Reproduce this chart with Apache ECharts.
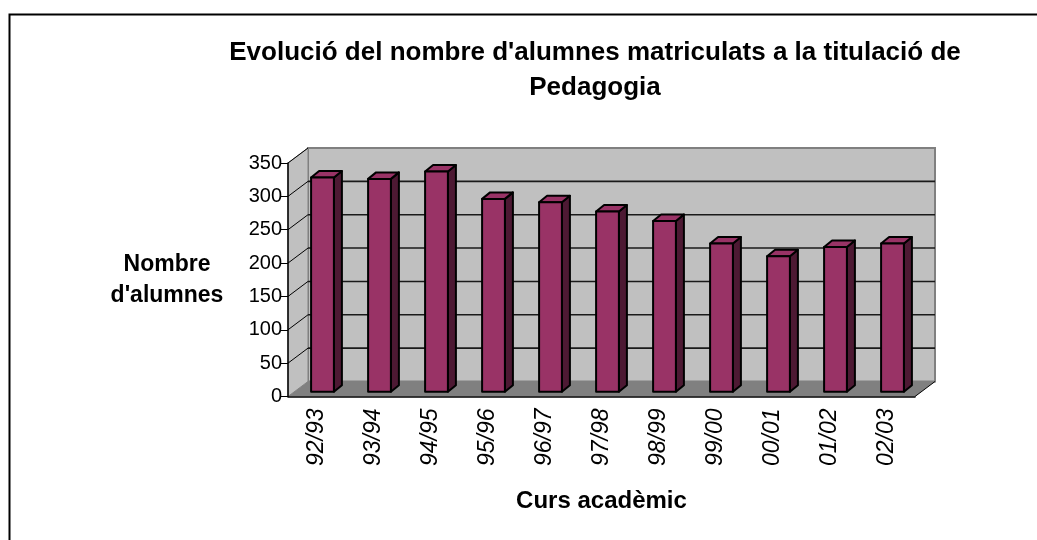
<!DOCTYPE html>
<html>
<head>
<meta charset="utf-8">
<script src="https://cdn.jsdelivr.net/npm/echarts@6/dist/echarts.min.js"></script>
<style>
  html, body { margin: 0; padding: 0; background: #fff; }
  #chart { width: 1037px; height: 540px; }
</style>
</head>
<body>
<div id="chart"></div>
<script>
  // curs acadèmic
  const categories = ['92/93', '93/94', '94/95', '95/96', '96/97', '97/98', '98/99', '99/00', '00/01', '01/02', '02/03'];
  // nombre d'alumnes matriculats
  const alumnes = [321, 319, 330, 289, 284, 270, 256, 222, 203, 217, 222];
  const yTicks = [0, 50, 100, 150, 200, 250, 300, 350];

  const font = 'Arial, "Liberation Sans", sans-serif';
  // depth offsets of the pseudo 3d box
  const wallDx = 20, wallDy = -15;
  const barDx = 6, barDy = -4.8;
  const barDepthX = 8, barDepthY = -6.5;

  const myChart = echarts.init(document.getElementById('chart'));

  function renderWalls(params, api) {
    const cs = params.coordSys;
    const x0 = cs.x, x1 = cs.x + cs.width;
    const yBot = api.coord([0, 0])[1];
    const yTop = api.coord([0, yTicks[yTicks.length - 1]])[1];
    const children = [];
    // back wall
    children.push({
      type: 'rect',
      shape: { x: x0 + wallDx, y: yTop + wallDy, width: x1 - x0, height: yBot - yTop },
      style: { fill: '#c0c0c0', stroke: '#808080', lineWidth: 2 },
    });
    // side wall
    children.push({
      type: 'polygon',
      shape: { points: [[x0, yTop], [x0 + wallDx, yTop + wallDy], [x0 + wallDx, yBot + wallDy], [x0, yBot]] },
      style: { fill: '#c0c0c0', stroke: '#808080', lineWidth: 1 },
    });
    // floor
    children.push({
      type: 'polygon',
      shape: { points: [[x0, yBot], [x1, yBot], [x1 + wallDx, yBot + wallDy], [x0 + wallDx, yBot + wallDy]] },
      style: { fill: '#808080' },
    });
    children.push({
      type: 'line',
      shape: { x1: x1, y1: yBot, x2: x1 + wallDx, y2: yBot + wallDy },
      style: { stroke: '#000', lineWidth: 1 },
    });
    yTicks.forEach((v) => {
      const y = api.coord([0, v])[1];
      if (v > 0) {
        children.push({
          type: 'line',
          shape: { x1: x0, y1: y, x2: x0 + wallDx, y2: y + wallDy },
          style: { stroke: '#000', lineWidth: 1 },
        });
      }
      if (v > 0 && v < yTicks[yTicks.length - 1]) {
        children.push({
          type: 'line',
          shape: { x1: x0 + wallDx, y1: y + wallDy, x2: x1 + wallDx, y2: y + wallDy },
          style: { stroke: '#1a1a1a', lineWidth: 1.6 },
        });
      }
    });
    return { type: 'group', children: children };
  }

  function renderBar(params, api) {
    const idx = api.value(0);
    const top = api.coord([idx, api.value(1)]);
    const base = api.coord([idx, 0]);
    const w = api.size([1, 0])[0] * 0.4;
    const xl = top[0] - w / 2 + barDx;
    const xr = xl + w;
    const yt = top[1] + barDy;
    const yb = base[1] + barDy;
    const edge = { stroke: '#000', lineWidth: 2, lineJoin: 'round' };
    return {
      type: 'group',
      children: [
        {
          type: 'polygon',
          shape: { points: [[xr, yt], [xr + barDepthX, yt + barDepthY], [xr + barDepthX, yb + barDepthY], [xr, yb]] },
          style: Object.assign({ fill: '#4d1933' }, edge),
        },
        {
          type: 'polygon',
          shape: { points: [[xl, yt], [xl + barDepthX, yt + barDepthY], [xr + barDepthX, yt + barDepthY], [xr, yt]] },
          style: Object.assign({ fill: '#993366' }, edge),
        },
        {
          type: 'rect',
          shape: { x: xl, y: yt, width: w, height: yb - yt },
          style: Object.assign({ fill: '#993366' }, edge),
        },
      ],
    };
  }

  const options = {
    animation: false,
    backgroundColor: '#fff',
    title: {
      text: "Evolució del nombre d'alumnes matriculats a la titulació de\nPedagogia",
      left: 590,
      top: 30,
      textAlign: 'center',
      textStyle: {
        fontFamily: font,
        fontSize: 26,
        fontWeight: 'bold',
        color: '#000',
        lineHeight: 35,
      },
    },
    graphic: [
      {
        type: 'rect',
        shape: { x: 9.5, y: 14.5, width: 1040, height: 540 },
        style: { fill: 'none', stroke: '#000', lineWidth: 2 },
        silent: true,
        z: 100,
      },
    ],
    grid: {
      left: 288,
      top: 163,
      width: 627,
      height: 233.5,
    },
    xAxis: {
      type: 'category',
      data: categories,
      name: 'Curs acadèmic',
      nameLocation: 'middle',
      nameGap: 93,
      nameTextStyle: {
        fontFamily: font,
        fontSize: 24,
        fontWeight: 'bold',
        color: '#000',
      },
      axisLine: { lineStyle: { color: '#000', width: 1.5 } },
      axisTick: { length: 7, lineStyle: { color: '#000' } },
      axisLabel: {
        rotate: 90,
        margin: 12,
        fontFamily: font,
        fontSize: 23,
        fontStyle: 'italic',
        color: '#000',
      },
      z: 10,
    },
    yAxis: {
      type: 'value',
      min: 0,
      max: 350,
      interval: 50,
      name: "Nombre\nd'alumnes",
      nameLocation: 'middle',
      nameRotate: 0,
      nameGap: 121,
      nameTextStyle: {
        fontFamily: font,
        fontSize: 23,
        fontWeight: 'bold',
        color: '#000',
        align: 'center',
        verticalAlign: 'middle',
        lineHeight: 31,
      },
      axisLine: { show: true, lineStyle: { color: '#000', width: 1.5 } },
      axisTick: { show: true, length: 7, lineStyle: { color: '#000' } },
      axisLabel: {
        margin: 6,
        fontFamily: font,
        fontSize: 20,
        color: '#000',
      },
      splitLine: { show: false },
      z: 10,
    },
    series: [
      {
        type: 'custom',
        renderItem: renderWalls,
        data: [[0, 0]],
        silent: true,
        z: 1,
      },
      {
        type: 'custom',
        renderItem: renderBar,
        data: alumnes.map((v, i) => [i, v]),
        z: 2,
      },
    ],
  };

  myChart.setOption(options);
</script>
</body>
</html>
